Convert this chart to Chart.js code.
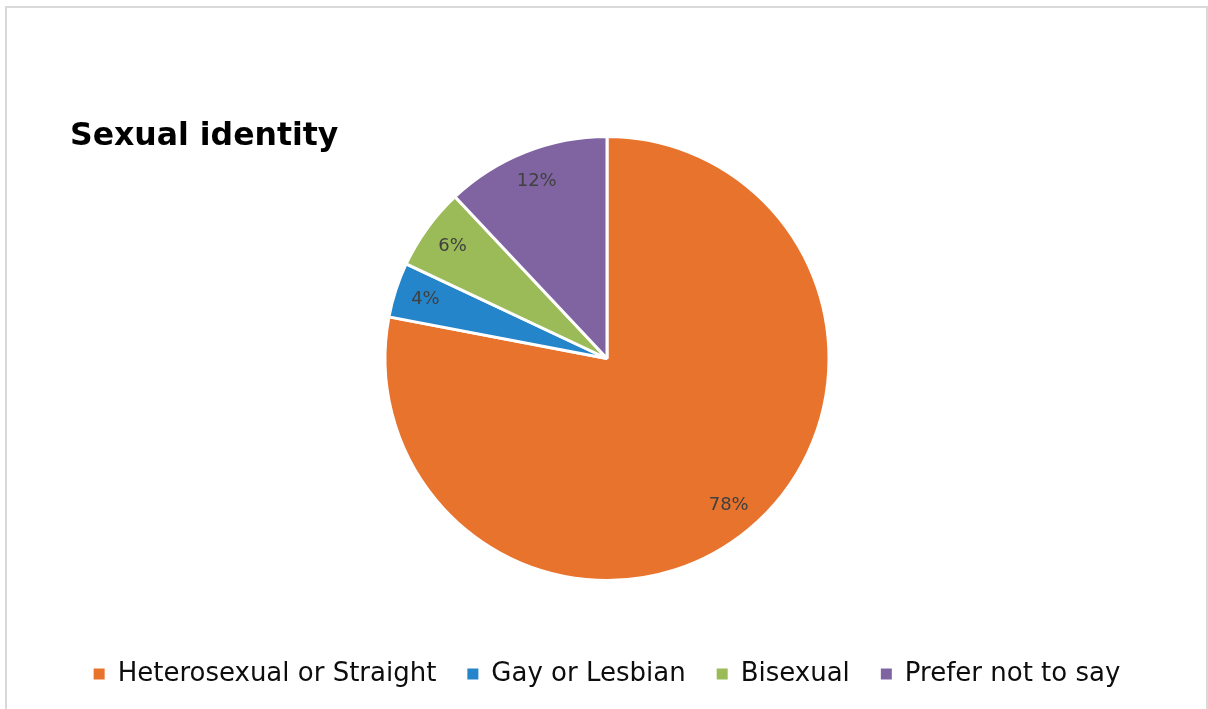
<!DOCTYPE html>
<html>
<head>
<meta charset="utf-8">
<script src="https://cdn.jsdelivr.net/npm/chart.js@4/dist/chart.umd.min.js"></script>
<style>
  html, body { margin: 0; padding: 0; background: #fff; }
  #wrap { position: relative; width: 1208px; height: 709px; overflow: hidden; }
  #frame { position: absolute; left: 5px; top: 6px; width: 1203px; height: 720px;
           border: 2px solid #d9d9d9; box-sizing: border-box; }
  #grafico { position: absolute; left: 0; top: 0; }
</style>
</head>
<body>
<div id="wrap">
  <div id="frame"></div>
  <canvas id="grafico" width="1208" height="709"></canvas>
</div>
<script>
const titulo = 'Sexual identity';
const categorias = ['Heterosexual or Straight', 'Gay or Lesbian', 'Bisexual', 'Prefer not to say'];
const porcentajes = [78, 4, 6, 12];
const colores = ['#e8732d', '#2585ca', '#9bbb59', '#8064a2'];

const fuente = '"DejaVu Sans", sans-serif';

// etiquetas de porcentaje dentro de cada porcion
const etiquetasPorcion = {
    id: 'etiquetasPorcion',
    afterDatasetsDraw(chart) {
        const ctx = chart.ctx;
        const meta = chart.getDatasetMeta(0);
        ctx.save();
        ctx.font = '18px ' + fuente;
        ctx.fillStyle = '#404040';
        ctx.textAlign = 'center';
        ctx.textBaseline = 'middle';
        meta.data.forEach((arco, i) => {
            const p = arco.getProps(['x', 'y', 'startAngle', 'endAngle', 'outerRadius']);
            const medio = (p.startAngle + p.endAngle) / 2;
            const r = p.outerRadius * 0.86;
            ctx.fillText(porcentajes[i] + '%', p.x + Math.cos(medio) * r, p.y + Math.sin(medio) * r);
        });
        ctx.restore();
    }
};

// titulo a la izquierda
const tituloIzq = {
    id: 'tituloIzq',
    afterDraw(chart) {
        const ctx = chart.ctx;
        ctx.save();
        ctx.font = 'bold 31.5px ' + fuente;
        ctx.fillStyle = '#000';
        ctx.textAlign = 'left';
        ctx.textBaseline = 'middle';
        ctx.fillText(titulo, 70, 137);
        ctx.restore();
    }
};

const grafico = document.querySelector('#grafico');
new Chart(grafico, {
    type: 'pie',
    data: {
        labels: categorias,
        datasets: [{
            data: porcentajes,
            backgroundColor: colores,
            borderColor: '#fff',
            borderWidth: 3,
            radius: 222
        }]
    },
    options: {
        responsive: false,
        animation: false,
        layout: { padding: { left: 6, right: 0, top: 134, bottom: 12 } },
        plugins: {
            tooltip: { enabled: false },
            legend: {
                position: 'bottom',
                title: { display: true, text: '', font: { size: 10 }, padding: { top: 35, bottom: 0 } },
                labels: {
                    font: { family: fuente, size: 26 },
                    color: '#0d0d0d',
                    boxWidth: 11,
                    boxHeight: 11,
                    padding: 31,
                    generateLabels(chart) {
                        const items = Chart.overrides.pie.plugins.legend.labels.generateLabels(chart);
                        items.forEach(it => { it.lineWidth = 0; });
                        return items;
                    }
                }
            }
        }
    },
    plugins: [etiquetasPorcion, tituloIzq]
});
</script>
</body>
</html>
